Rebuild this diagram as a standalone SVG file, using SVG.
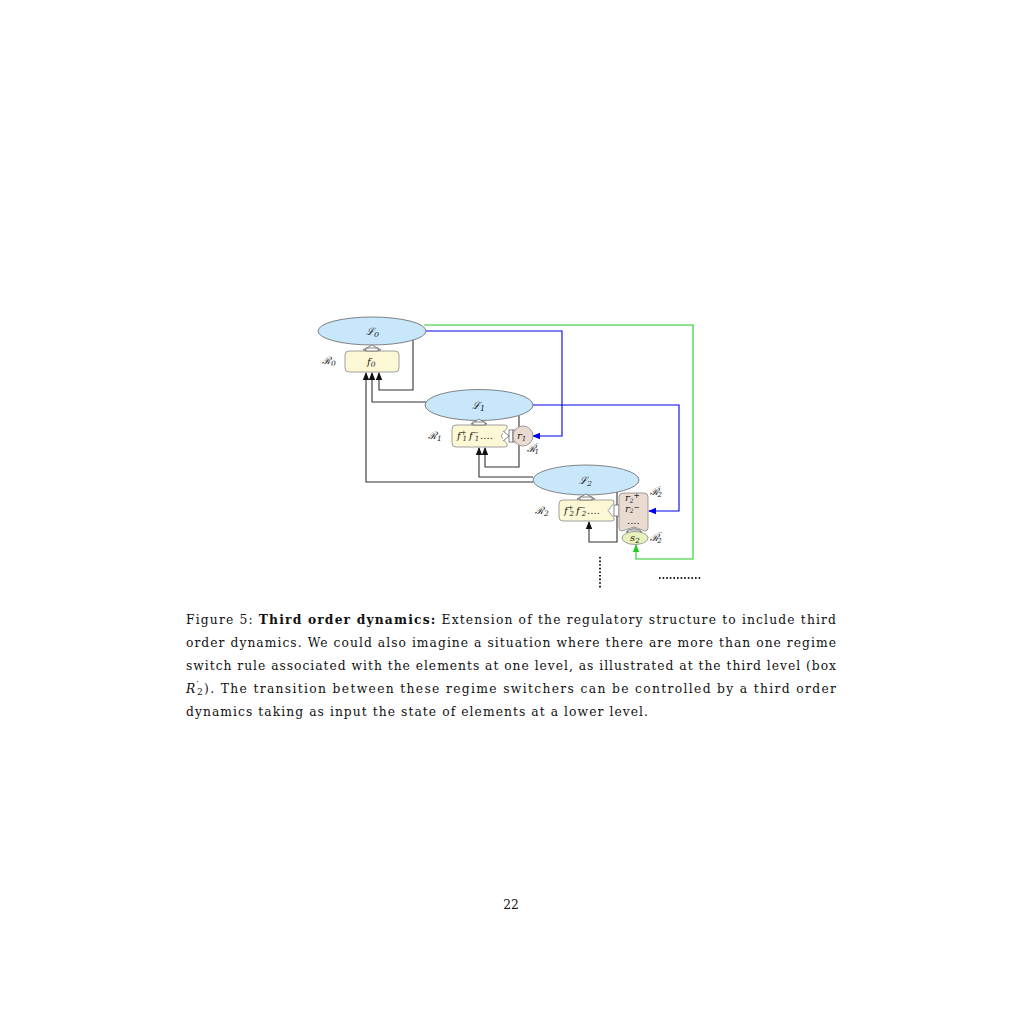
<svg xmlns="http://www.w3.org/2000/svg" width="1025" height="1025" viewBox="0 0 1025 1025">
<style>
.ell{fill:#c8e7fb;stroke:#666;stroke-width:0.8}
.box{fill:#fcf7d4;stroke:#888;stroke-width:0.8}
.brown{fill:#e9dbcf;stroke:#888;stroke-width:0.8}
.green-ell{fill:#e8f1bb;stroke:#888;stroke-width:0.8}
.k{fill:none;stroke:#333;stroke-width:1.1}
.b{fill:none;stroke:#0000ee;stroke-width:1.1}
.g{fill:none;stroke:#22cc22;stroke-width:1.1}
.hol{fill:#fff;stroke:#666;stroke-width:0.8}
.m{font-family:"DejaVu Serif","Liberation Serif",serif;font-style:italic;font-size:10px;fill:#222}
.cap{font-family:"DejaVu Serif","Liberation Serif",serif;font-size:12.3px;fill:#111}
.dots{fill:none;stroke:#222;stroke-width:2;stroke-dasharray:1.6 2}
</style>
<defs>
<marker id="ak" markerWidth="8" markerHeight="8" refX="7" refY="4" orient="auto" markerUnits="userSpaceOnUse"><path d="M0,0.8 L8,4 L0,7.2 Z" fill="#111"/></marker>
<marker id="ab" markerWidth="8" markerHeight="8" refX="7" refY="4" orient="auto" markerUnits="userSpaceOnUse"><path d="M0,0.8 L8,4 L0,7.2 Z" fill="#0000ee"/></marker>
<marker id="ag" markerWidth="8" markerHeight="8" refX="7" refY="4" orient="auto" markerUnits="userSpaceOnUse"><path d="M0,0.8 L8,4 L0,7.2 Z" fill="#22cc22"/></marker>
</defs>

<g id="connectors">
<path class="k" d="M413,339 V390 H379 V373" marker-end="url(#ak)"/>
<path class="k" d="M426,402 H372 V373" marker-end="url(#ak)"/>
<path class="k" d="M533,482 H366 V373" marker-end="url(#ak)"/>
<path class="k" d="M519,416 V467 H485 V448" marker-end="url(#ak)"/>
<path class="k" d="M533,477 H479 V448" marker-end="url(#ak)"/>
<path class="k" d="M617,492 V542 H589 V522" marker-end="url(#ak)"/>
<path class="b" d="M426,331 H562 V436 H533" marker-end="url(#ab)"/>
<path class="b" d="M533,405 H679 V511 H649" marker-end="url(#ab)"/>
<path class="g" d="M424,325 H693 V559 H636 V545" marker-end="url(#ag)"/>
</g>

<g id="L0">
<ellipse class="ell" cx="372" cy="331" rx="54" ry="14"/>
<text class="m" x="366" y="334.5" font-size="11">ℒ<tspan font-size="8" dy="2">0</tspan></text>
</g>
<g id="R0">
<rect class="box" x="345" y="351" width="54" height="21" rx="4"/>
<text class="m" x="367" y="365">f<tspan font-size="7.5" dy="2">0</tspan></text>
<text class="m" x="322" y="364">ℛ<tspan font-size="7.5" dy="2">0</tspan></text>
<path class="hol" d="M363,350 L372,345 L381,350 Z"/>
<rect class="hol" x="366" y="348" width="12" height="3"/>
</g>

<g id="L1">
<ellipse class="ell" cx="479" cy="405" rx="54" ry="15.5"/>
<text class="m" x="472" y="408.5" font-size="11">ℒ<tspan font-size="8" dy="2">1</tspan></text>
</g>
<g id="R1">
<path class="box" d="M456,425 H505 Q508,425 507,428 L501,436 L507,444 Q508,447 505,447 H456 Q452,447 452,443 V429 Q452,425 456,425 Z"/>
<text class="m" x="457" y="439">f<tspan font-size="7" dy="-4">+</tspan><tspan font-size="7" dy="6" dx="-4">1</tspan><tspan dy="-2" dx="2">f</tspan><tspan font-size="7" dy="-4">−</tspan><tspan font-size="7" dy="6" dx="-4">1</tspan><tspan dy="-2" dx="1">....</tspan></text>
<text class="m" x="428" y="439">ℛ<tspan font-size="7.5" dy="2">1</tspan></text>
<path class="hol" d="M471,424 L479,419 L487,424 Z"/>
<rect class="hol" x="473" y="422" width="12" height="3"/>
<path class="hol" d="M503,431 L509,436 L503,441"/>
<rect class="hol" x="509" y="430" width="4" height="12"/>
<rect class="hol" x="513" y="430" width="3" height="12"/>
</g>
<g id="R1p">
<circle class="brown" cx="523" cy="436" r="10"/>
<text class="m" x="517" y="439">r<tspan font-size="7" dy="2">1</tspan></text>
<text class="m" x="527" y="452">ℛ<tspan font-size="7" dy="-4">′</tspan><tspan font-size="7" dy="6" dx="-3">1</tspan></text>
</g>

<g id="L2">
<ellipse class="ell" cx="586" cy="480" rx="53" ry="15"/>
<text class="m" x="579" y="483.5" font-size="11">ℒ<tspan font-size="8" dy="2">2</tspan></text>
</g>
<g id="R2">
<path class="box" d="M563,500 H612 Q615,500 614,503 L608,510.5 L614,518 Q615,521 612,521 H563 Q559,521 559,517 V504 Q559,500 563,500 Z"/>
<text class="m" x="564" y="514">f<tspan font-size="7" dy="-4">+</tspan><tspan font-size="7" dy="6" dx="-4">2</tspan><tspan dy="-2" dx="2">f</tspan><tspan font-size="7" dy="-4">−</tspan><tspan font-size="7" dy="6" dx="-4">2</tspan><tspan dy="-2" dx="1">....</tspan></text>
<text class="m" x="535" y="514">ℛ<tspan font-size="7.5" dy="2">2</tspan></text>
<path class="hol" d="M577,499 L586,494 L595,499 Z"/>
<rect class="hol" x="580" y="497" width="12" height="3"/>
<rect class="hol" x="614" y="505" width="5" height="11"/>
</g>
<g id="R2p">
<path class="brown" d="M623,493 H644 Q648,493 648,497 V528 Q648,531 645,531 L634,527 L622,531 Q619,531 619,528 V497 Q619,493 623,493 Z"/>
<text class="m" x="625" y="501" font-size="8.5">r<tspan font-size="6" dy="1.5">2</tspan><tspan font-size="7.5" dy="-4.5">+</tspan></text>
<text class="m" x="625" y="511.5" font-size="8.5">r<tspan font-size="6" dy="1.5">2</tspan><tspan font-size="7.5" dy="-3.5">−</tspan></text>
<text class="m" x="627" y="524" font-size="6.5">....</text>
<text class="m" x="650" y="495">ℛ<tspan font-size="7" dy="-4">′</tspan><tspan font-size="7" dy="6" dx="-3">2</tspan></text>
<path class="hol" d="M626,532 L634,528 L642,532 Z"/>
<rect class="hol" x="628" y="530" width="12" height="2.5"/>
</g>
<g id="R2pp">
<ellipse class="green-ell" cx="635" cy="538" rx="13" ry="6.5"/>
<text class="m" x="630" y="541" font-size="9">s<tspan font-size="7" dy="2">2</tspan></text>
<text class="m" x="650" y="541">ℛ<tspan font-size="7" dy="-4">′′</tspan><tspan font-size="7" dy="6" dx="-5">2</tspan></text>
</g>

<g id="continuation">
<path class="dots" d="M600,557 V588"/>
<path class="dots" d="M659,578 H701"/>
</g>

<g id="caption">
<text class="cap" x="186" y="624" textLength="650" lengthAdjust="spacing">Figure 5: <tspan font-weight="bold">Third order dynamics:</tspan> Extension of the regulatory structure to include third</text>
<text class="cap" x="186" y="647" textLength="650" lengthAdjust="spacing">order dynamics. We could also imagine a situation where there are more than one regime</text>
<text class="cap" x="186" y="670" textLength="650" lengthAdjust="spacing">switch rule associated with the elements at one level, as illustrated at the third level (box</text>
<text class="cap" x="186" y="693" textLength="650" lengthAdjust="spacing"><tspan font-style="italic">R</tspan><tspan font-size="9" dy="-5">′</tspan><tspan font-size="9" dy="7" dx="-3">2</tspan><tspan dy="-2">).  The transition between these regime switchers can be controlled by a third order</tspan></text>
<text class="cap" x="186" y="716" textLength="462" lengthAdjust="spacing">dynamics taking as input the state of elements at a lower level.</text>
</g>
<text class="cap" x="511" y="909" text-anchor="middle" font-size="13.5">22</text>
</svg>
